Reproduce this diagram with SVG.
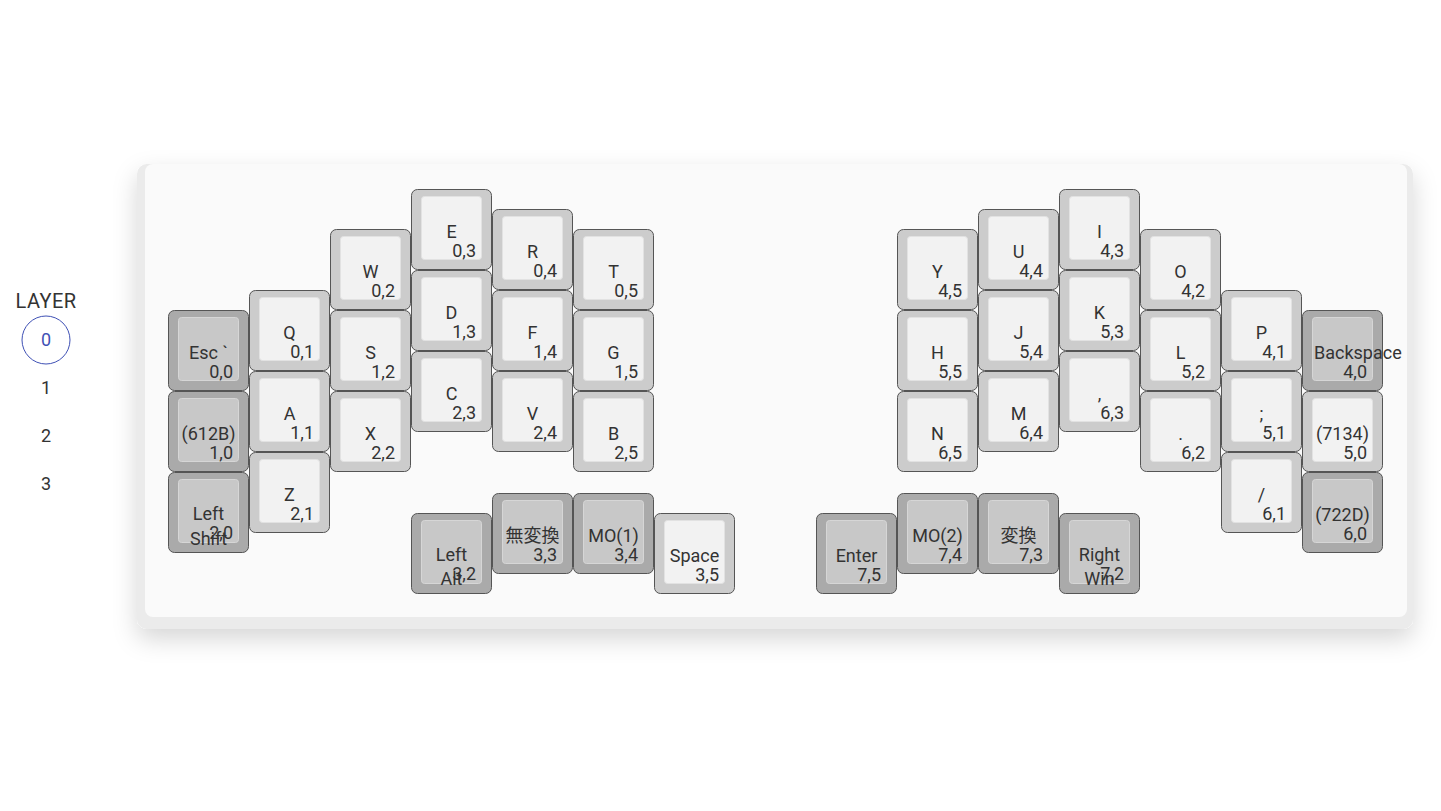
<svg xmlns="http://www.w3.org/2000/svg" width="1441" height="811" viewBox="0 0 1441 811">
<style>
text{font-family:Roboto,"Noto Sans CJK JP",sans-serif;font-size:18px;fill:#333}
.o{fill:#cccccc;stroke:#555;stroke-width:1}
.i{fill:#f2f2f2;stroke:#e2e2e2;stroke-width:1}
.dark .o{fill:#aaaaaa}
.dark .i{fill:#c8c8c8;stroke:#d6d6d6}
.l{text-anchor:middle}
.n{text-anchor:end}
.layer{text-anchor:middle;font-size:18px}
</style>
<defs>
<filter id="sh" x="-10%" y="-20%" width="120%" height="150%">
<feDropShadow dx="0" dy="10" stdDeviation="12" flood-color="#000" flood-opacity="0.16"/>
</filter>
</defs>
<rect width="1441" height="811" fill="#ffffff"/>
<g id="layers">
<text x="46" y="308" style="font-size:20px;text-anchor:middle;letter-spacing:0.4px">LAYER</text>
<circle cx="46" cy="340" r="24" fill="none" stroke="#3f51b5" stroke-width="1"/>
<text class="layer" x="46" y="346" style="fill:#3f51b5">0</text>
<text class="layer" x="46" y="394">1</text>
<text class="layer" x="46" y="442">2</text>
<text class="layer" x="46" y="490">3</text>
</g>
<g id="panel">
<rect x="137" y="164" width="1276" height="465" rx="10" fill="#ebebeb" filter="url(#sh)"/>
<rect x="145" y="164" width="1262" height="453" rx="8" fill="#fafafa"/>
</g>
<g id="connectors"></g>
<g id="keys">
<g id="k00" class="dark" transform="translate(168.5,310.5)"><rect class="o" width="80" height="80" rx="6"/><rect class="i" x="10" y="7" width="60" height="63" rx="3"/><text class="l" x="40" y="48">Esc `</text><text class="n" x="64.5" y="67">0,0</text></g>
<g id="k10" class="dark" transform="translate(168.5,391.5)"><rect class="o" width="80" height="80" rx="6"/><rect class="i" x="10" y="7" width="60" height="63" rx="3"/><text class="l" x="40" y="48">(612B)</text><text class="n" x="64.5" y="67">1,0</text></g>
<g id="k20" class="dark" transform="translate(168.5,472.5)"><rect class="o" width="80" height="80" rx="6"/><rect class="i" x="10" y="7" width="60" height="63" rx="3"/><text class="l" x="40" y="47.5">Left</text><text class="l" x="40" y="72">Shift</text><text class="n" x="64.5" y="66">2,0</text></g>
<g id="k01" transform="translate(249.5,290.5)"><rect class="o" width="80" height="80" rx="6"/><rect class="i" x="10" y="7" width="60" height="63" rx="3"/><text class="l" x="40" y="48">Q</text><text class="n" x="64.5" y="67">0,1</text></g>
<g id="k11" transform="translate(249.5,371.5)"><rect class="o" width="80" height="80" rx="6"/><rect class="i" x="10" y="7" width="60" height="63" rx="3"/><text class="l" x="40" y="48">A</text><text class="n" x="64.5" y="67">1,1</text></g>
<g id="k21" transform="translate(249.5,452.5)"><rect class="o" width="80" height="80" rx="6"/><rect class="i" x="10" y="7" width="60" height="63" rx="3"/><text class="l" x="40" y="48">Z</text><text class="n" x="64.5" y="67">2,1</text></g>
<g id="k02" transform="translate(330.5,229.5)"><rect class="o" width="80" height="80" rx="6"/><rect class="i" x="10" y="7" width="60" height="63" rx="3"/><text class="l" x="40" y="48">W</text><text class="n" x="64.5" y="67">0,2</text></g>
<g id="k12" transform="translate(330.5,310.5)"><rect class="o" width="80" height="80" rx="6"/><rect class="i" x="10" y="7" width="60" height="63" rx="3"/><text class="l" x="40" y="48">S</text><text class="n" x="64.5" y="67">1,2</text></g>
<g id="k22" transform="translate(330.5,391.5)"><rect class="o" width="80" height="80" rx="6"/><rect class="i" x="10" y="7" width="60" height="63" rx="3"/><text class="l" x="40" y="48">X</text><text class="n" x="64.5" y="67">2,2</text></g>
<g id="k03" transform="translate(411.5,189.5)"><rect class="o" width="80" height="80" rx="6"/><rect class="i" x="10" y="7" width="60" height="63" rx="3"/><text class="l" x="40" y="48">E</text><text class="n" x="64.5" y="67">0,3</text></g>
<g id="k13" transform="translate(411.5,270.5)"><rect class="o" width="80" height="80" rx="6"/><rect class="i" x="10" y="7" width="60" height="63" rx="3"/><text class="l" x="40" y="48">D</text><text class="n" x="64.5" y="67">1,3</text></g>
<g id="k23" transform="translate(411.5,351.5)"><rect class="o" width="80" height="80" rx="6"/><rect class="i" x="10" y="7" width="60" height="63" rx="3"/><text class="l" x="40" y="48">C</text><text class="n" x="64.5" y="67">2,3</text></g>
<g id="k04" transform="translate(492.5,209.5)"><rect class="o" width="80" height="80" rx="6"/><rect class="i" x="10" y="7" width="60" height="63" rx="3"/><text class="l" x="40" y="48">R</text><text class="n" x="64.5" y="67">0,4</text></g>
<g id="k14" transform="translate(492.5,290.5)"><rect class="o" width="80" height="80" rx="6"/><rect class="i" x="10" y="7" width="60" height="63" rx="3"/><text class="l" x="40" y="48">F</text><text class="n" x="64.5" y="67">1,4</text></g>
<g id="k24" transform="translate(492.5,371.5)"><rect class="o" width="80" height="80" rx="6"/><rect class="i" x="10" y="7" width="60" height="63" rx="3"/><text class="l" x="40" y="48">V</text><text class="n" x="64.5" y="67">2,4</text></g>
<g id="k05" transform="translate(573.5,229.5)"><rect class="o" width="80" height="80" rx="6"/><rect class="i" x="10" y="7" width="60" height="63" rx="3"/><text class="l" x="40" y="48">T</text><text class="n" x="64.5" y="67">0,5</text></g>
<g id="k15" transform="translate(573.5,310.5)"><rect class="o" width="80" height="80" rx="6"/><rect class="i" x="10" y="7" width="60" height="63" rx="3"/><text class="l" x="40" y="48">G</text><text class="n" x="64.5" y="67">1,5</text></g>
<g id="k25" transform="translate(573.5,391.5)"><rect class="o" width="80" height="80" rx="6"/><rect class="i" x="10" y="7" width="60" height="63" rx="3"/><text class="l" x="40" y="48">B</text><text class="n" x="64.5" y="67">2,5</text></g>
<g id="k32" class="dark" transform="translate(411.5,513.5)"><rect class="o" width="80" height="80" rx="6"/><rect class="i" x="10" y="7" width="60" height="63" rx="3"/><text class="l" x="40" y="47.5">Left</text><text class="l" x="40" y="71">Alt</text><text class="n" x="64.5" y="66.5">3,2</text></g>
<g id="k33" class="dark" transform="translate(492.5,493.5)"><rect class="o" width="80" height="80" rx="6"/><rect class="i" x="10" y="7" width="60" height="63" rx="3"/><text class="l" x="40" y="48">無変換</text><text class="n" x="64.5" y="67">3,3</text></g>
<g id="k34" class="dark" transform="translate(573.5,493.5)"><rect class="o" width="80" height="80" rx="6"/><rect class="i" x="10" y="7" width="60" height="63" rx="3"/><text class="l" x="40" y="48">MO(1)</text><text class="n" x="64.5" y="67">3,4</text></g>
<g id="k35" transform="translate(654.5,513.5)"><rect class="o" width="80" height="80" rx="6"/><rect class="i" x="10" y="7" width="60" height="63" rx="3"/><text class="l" x="40" y="48">Space</text><text class="n" x="64.5" y="67">3,5</text></g>
<g id="k45" transform="translate(897.5,229.5)"><rect class="o" width="80" height="80" rx="6"/><rect class="i" x="10" y="7" width="60" height="63" rx="3"/><text class="l" x="40" y="48">Y</text><text class="n" x="64.5" y="67">4,5</text></g>
<g id="k55" transform="translate(897.5,310.5)"><rect class="o" width="80" height="80" rx="6"/><rect class="i" x="10" y="7" width="60" height="63" rx="3"/><text class="l" x="40" y="48">H</text><text class="n" x="64.5" y="67">5,5</text></g>
<g id="k65" transform="translate(897.5,391.5)"><rect class="o" width="80" height="80" rx="6"/><rect class="i" x="10" y="7" width="60" height="63" rx="3"/><text class="l" x="40" y="48">N</text><text class="n" x="64.5" y="67">6,5</text></g>
<g id="k44" transform="translate(978.5,209.5)"><rect class="o" width="80" height="80" rx="6"/><rect class="i" x="10" y="7" width="60" height="63" rx="3"/><text class="l" x="40" y="48">U</text><text class="n" x="64.5" y="67">4,4</text></g>
<g id="k54" transform="translate(978.5,290.5)"><rect class="o" width="80" height="80" rx="6"/><rect class="i" x="10" y="7" width="60" height="63" rx="3"/><text class="l" x="40" y="48">J</text><text class="n" x="64.5" y="67">5,4</text></g>
<g id="k64" transform="translate(978.5,371.5)"><rect class="o" width="80" height="80" rx="6"/><rect class="i" x="10" y="7" width="60" height="63" rx="3"/><text class="l" x="40" y="48">M</text><text class="n" x="64.5" y="67">6,4</text></g>
<g id="k43" transform="translate(1059.5,189.5)"><rect class="o" width="80" height="80" rx="6"/><rect class="i" x="10" y="7" width="60" height="63" rx="3"/><text class="l" x="40" y="48">I</text><text class="n" x="64.5" y="67">4,3</text></g>
<g id="k53" transform="translate(1059.5,270.5)"><rect class="o" width="80" height="80" rx="6"/><rect class="i" x="10" y="7" width="60" height="63" rx="3"/><text class="l" x="40" y="48">K</text><text class="n" x="64.5" y="67">5,3</text></g>
<g id="k63" transform="translate(1059.5,351.5)"><rect class="o" width="80" height="80" rx="6"/><rect class="i" x="10" y="7" width="60" height="63" rx="3"/><text class="l" x="40" y="48">,</text><text class="n" x="64.5" y="67">6,3</text></g>
<g id="k42" transform="translate(1140.5,229.5)"><rect class="o" width="80" height="80" rx="6"/><rect class="i" x="10" y="7" width="60" height="63" rx="3"/><text class="l" x="40" y="48">O</text><text class="n" x="64.5" y="67">4,2</text></g>
<g id="k52" transform="translate(1140.5,310.5)"><rect class="o" width="80" height="80" rx="6"/><rect class="i" x="10" y="7" width="60" height="63" rx="3"/><text class="l" x="40" y="48">L</text><text class="n" x="64.5" y="67">5,2</text></g>
<g id="k62" transform="translate(1140.5,391.5)"><rect class="o" width="80" height="80" rx="6"/><rect class="i" x="10" y="7" width="60" height="63" rx="3"/><text class="l" x="40" y="48">.</text><text class="n" x="64.5" y="67">6,2</text></g>
<g id="k41" transform="translate(1221.5,290.5)"><rect class="o" width="80" height="80" rx="6"/><rect class="i" x="10" y="7" width="60" height="63" rx="3"/><text class="l" x="40" y="48">P</text><text class="n" x="64.5" y="67">4,1</text></g>
<g id="k51" transform="translate(1221.5,371.5)"><rect class="o" width="80" height="80" rx="6"/><rect class="i" x="10" y="7" width="60" height="63" rx="3"/><text class="l" x="40" y="48">;</text><text class="n" x="64.5" y="67">5,1</text></g>
<g id="k61" transform="translate(1221.5,452.5)"><rect class="o" width="80" height="80" rx="6"/><rect class="i" x="10" y="7" width="60" height="63" rx="3"/><text class="l" x="40" y="48">/</text><text class="n" x="64.5" y="67">6,1</text></g>
<g id="k40" class="dark" transform="translate(1302.5,310.5)"><rect class="o" width="80" height="80" rx="6"/><rect class="i" x="10" y="7" width="60" height="63" rx="3"/><text x="11.5" y="48">Backspace</text><text class="n" x="64.5" y="67">4,0</text></g>
<g id="k50" transform="translate(1302.5,391.5)"><rect class="o" width="80" height="80" rx="6"/><rect class="i" x="10" y="7" width="60" height="63" rx="3"/><text class="l" x="40" y="48">(7134)</text><text class="n" x="64.5" y="67">5,0</text></g>
<g id="k60" class="dark" transform="translate(1302.5,472.5)"><rect class="o" width="80" height="80" rx="6"/><rect class="i" x="10" y="7" width="60" height="63" rx="3"/><text class="l" x="40" y="48">(722D)</text><text class="n" x="64.5" y="67">6,0</text></g>
<g id="k75" class="dark" transform="translate(816.5,513.5)"><rect class="o" width="80" height="80" rx="6"/><rect class="i" x="10" y="7" width="60" height="63" rx="3"/><text class="l" x="40" y="48">Enter</text><text class="n" x="64.5" y="67">7,5</text></g>
<g id="k74" class="dark" transform="translate(897.5,493.5)"><rect class="o" width="80" height="80" rx="6"/><rect class="i" x="10" y="7" width="60" height="63" rx="3"/><text class="l" x="40" y="48">MO(2)</text><text class="n" x="64.5" y="67">7,4</text></g>
<g id="k73" class="dark" transform="translate(978.5,493.5)"><rect class="o" width="80" height="80" rx="6"/><rect class="i" x="10" y="7" width="60" height="63" rx="3"/><text class="l" x="40" y="48">変換</text><text class="n" x="64.5" y="67">7,3</text></g>
<g id="k72" class="dark" transform="translate(1059.5,513.5)"><rect class="o" width="80" height="80" rx="6"/><rect class="i" x="10" y="7" width="60" height="63" rx="3"/><text class="l" x="40" y="47.5">Right</text><text class="l" x="40" y="71">Win</text><text class="n" x="64.5" y="66.5">7,2</text></g>
</g>
</svg>
